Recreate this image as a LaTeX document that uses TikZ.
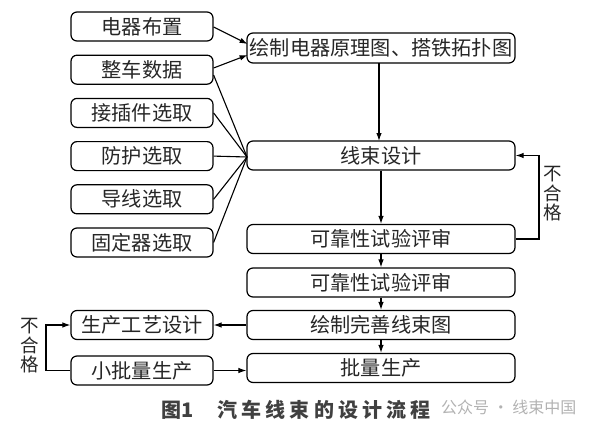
\documentclass[tikz,border=0pt]{standalone}
\usepackage{fontspec}
\setmainfont{Noto Sans CJK SC}
\usetikzlibrary{arrows.meta}
\newcommand\capsp{\kern4.2pt}
\begin{document}
\begin{tikzpicture}[x=1pt,y=-1pt,
  box/.style={draw, line width=1.2pt, rounded corners=6pt, inner sep=0pt,
    minimum height=29pt, font=\fontsize{20.2}{20}\selectfont, text=black!85},
  lbox/.style={box, minimum width=142pt},
  rbox/.style={box, minimum width=268pt},
  conn/.style={line width=1.1pt},
  arr/.style={conn, -{Latex[length=8pt,width=5.5pt]}},
  vlab/.style={align=center, inner sep=0pt, font=\fontsize{18.5}{19.5}\selectfont, text=black!85}]
\useasboundingbox (0,0) rectangle (592,431);
% left column
\node[lbox] (a1) at (142,26.5) {电器布置};
\node[lbox] (a2) at (142,69.7) {整车数据};
\node[lbox] (a3) at (142,112.9) {接插件选取};
\node[lbox] (a4) at (142,156.1) {防护选取};
\node[lbox] (a5) at (142,199.3) {导线选取};
\node[lbox] (a6) at (142,242.5) {固定器选取};
\node[lbox] (p1) at (142,325) {生产工艺设计};
\node[lbox] (p2) at (142,370.5) {小批量生产};
% right column
\node[rbox, minimum height=30pt] (r1) at (381,48) {绘制电器原理图、搭铁拓扑图};
\node[rbox] (r2) at (381,155.5) {线束设计};
\node[rbox] (r3) at (381,239) {可靠性试验评审};
\node[rbox] (r4) at (381,282.5) {可靠性试验评审};
\node[rbox] (r5) at (381,325) {绘制完善线束图};
\node[rbox] (r6) at (381,368) {批量生产};
% converging arrows
\coordinate (t1) at (247.6,44);
\coordinate (t2) at (247.6,55);
\draw[arr] (a1.east |- 0,27) -- (t1);
\draw[arr] (a2.east |- 0,68) -- (t2);
\coordinate (m) at (247,157);
\draw[conn] (a2.east |- 0,75) -- (m);
\draw[conn] (a3.east) -- (m);
\draw[conn] (a4.east) -- (m);
\draw[conn] (a5.east) -- (m);
\draw[conn] (a6.east) -- (m);
% vertical flow
\draw[arr] (379,63) -- (379,141);
\draw[arr] (r2.south) -- (r3.north);
\draw[arr] (r3.south) -- (r4.north);
\draw[arr] (r4.south) -- (r5.north);
\draw[arr] (r5.south) -- (r6.north);
% right feedback
\coordinate (fr) at (539,239);
\draw[arr] (r3.east) -- (fr) -- (fr |- r2.east) -- (r2.east);
\node[vlab] (l1) at (553,194) {不\\合\\格};
% to production
\draw[arr] (r5.west) -- (p1.east);
\draw[arr] (p2.east) -- (p2.east -| r6.west);
% left feedback
\coordinate (fl) at (46,370.5);
\draw[arr] (p2.west) -- (fl) -- (fl |- p1.west) -- (p1.west);
\node[vlab] (l2) at (30,346) {不\\合\\格};
% caption
\node[anchor=west, inner sep=0pt, font=\fontsize{20}{20}\selectfont\bfseries, text=black!75] (c1) at (161,410) {图1};
\node[anchor=west, inner sep=0pt, font=\fontsize{20}{20}\selectfont\bfseries, text=black!75] (c2) at (217,410) {汽\capsp 车\capsp 线\capsp 束\capsp 的\capsp 设\capsp 计\capsp 流\capsp 程};
\node[anchor=west, inner sep=0pt, font=\fontsize{16}{16}\selectfont, text=black!30] (w) at (441,407) {公众号 · 线束中国};
\end{tikzpicture}
\end{document}
